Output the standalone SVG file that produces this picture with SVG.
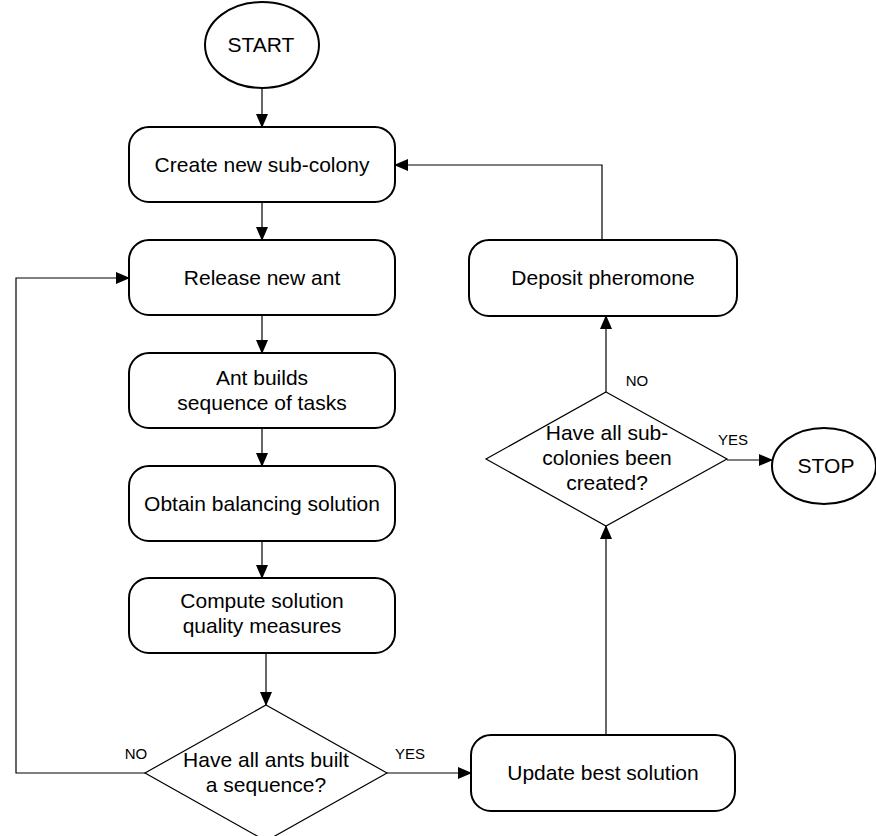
<svg xmlns="http://www.w3.org/2000/svg" width="876" height="836" viewBox="0 0 876 836">
  <defs>
    <marker id="arrow" markerUnits="userSpaceOnUse" markerWidth="14" markerHeight="12" viewBox="0 0 14 12" refX="13" refY="6" orient="auto">
      <path d="M0,0 L14,6 L0,12 Z" fill="#000"/>
    </marker>
  </defs>
  <style>
    .box { fill: #fff; stroke: #000; stroke-width: 2; }
    .term { fill: #fff; stroke: #000; stroke-width: 2; }
    .dec { fill: #fff; stroke: #000; stroke-width: 1.2; }
    .conn { fill: none; stroke: #000; stroke-width: 1.2; marker-end: url(#arrow); }
    .plain { fill: none; stroke: #000; stroke-width: 1.2; }
    text { font-family: "Liberation Sans", Arial, sans-serif; font-size: 21px; fill: #000; text-anchor: middle; }
    .lbl { font-size: 15px; }
  </style>

  <!-- connectors -->
  <g id="connectors">
    <line class="conn" x1="262" y1="88" x2="262" y2="127"/>
    <line class="conn" x1="262" y1="202" x2="262" y2="240"/>
    <line class="conn" x1="262" y1="315" x2="262" y2="353"/>
    <line class="conn" x1="262" y1="428" x2="262" y2="466"/>
    <line class="conn" x1="262" y1="541" x2="262" y2="578"/>
    <line class="conn" x1="266" y1="653" x2="266" y2="705"/>
    <polyline class="conn" points="145,773 16,773 16,278 129,278"/>
    <line class="conn" x1="387" y1="773" x2="471" y2="773"/>
    <line class="conn" x1="606" y1="735" x2="606" y2="526"/>
    <line class="conn" x1="606" y1="392" x2="606" y2="316"/>
    <line class="conn" x1="727" y1="460" x2="772" y2="460"/>
    <polyline class="conn" points="602,240 602,165 395,165"/>
    <text class="lbl" x="136" y="759">NO</text>
    <text class="lbl" x="410" y="759">YES</text>
    <text class="lbl" x="637" y="386">NO</text>
    <text class="lbl" x="733" y="445">YES</text>
  </g>

  <!-- nodes -->
  <g id="start">
    <ellipse class="term" cx="262" cy="45" rx="57" ry="43"/>
    <text x="261" y="52">START</text>
  </g>
  <g id="create-sub-colony">
    <rect class="box" x="129" y="127" width="266" height="75" rx="20"/>
    <text x="262" y="172">Create new sub-colony</text>
  </g>
  <g id="release-ant">
    <rect class="box" x="129" y="240" width="266" height="75" rx="20"/>
    <text x="262" y="285">Release new ant</text>
  </g>
  <g id="ant-builds">
    <rect class="box" x="129" y="353" width="266" height="75" rx="20"/>
    <text x="262" y="385">Ant builds</text>
    <text x="262" y="410">sequence of tasks</text>
  </g>
  <g id="balancing">
    <rect class="box" x="129" y="466" width="266" height="75" rx="20"/>
    <text x="262" y="511">Obtain balancing solution</text>
  </g>
  <g id="quality">
    <rect class="box" x="129" y="578" width="266" height="75" rx="20"/>
    <text x="262" y="608">Compute solution</text>
    <text x="262" y="633">quality measures</text>
  </g>
  <g id="ants-done">
    <polygon class="dec" points="266,705 387,773 266,841 145,773"/>
    <text x="266" y="767">Have all ants built</text>
    <text x="266" y="792">a sequence?</text>
  </g>
  <g id="update-best">
    <rect class="box" x="471" y="735" width="264" height="76" rx="20"/>
    <text x="603" y="780">Update best solution</text>
  </g>
  <g id="colonies-done">
    <polygon class="dec" points="606,392 727,459 606,526 486,459"/>
    <text x="607" y="440">Have all sub-</text>
    <text x="607" y="465">colonies been</text>
    <text x="607" y="490">created?</text>
  </g>
  <g id="deposit">
    <rect class="box" x="469" y="240" width="268" height="76" rx="20"/>
    <text x="603" y="285">Deposit pheromone</text>
  </g>
  <g id="stop">
    <ellipse class="term" cx="824" cy="466" rx="52" ry="38"/>
    <text x="826" y="473">STOP</text>
  </g>
</svg>
